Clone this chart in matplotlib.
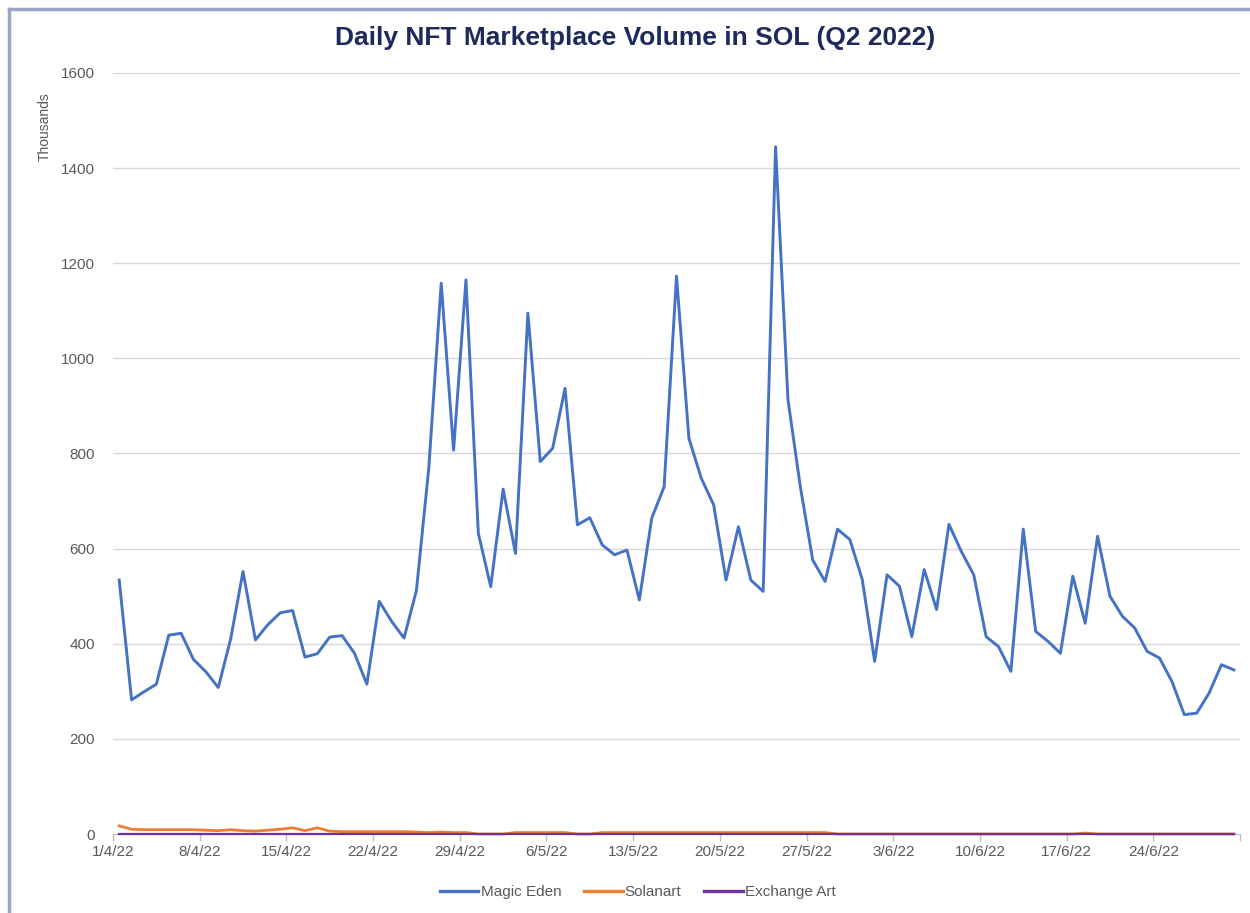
import matplotlib
matplotlib.use("Agg")
import matplotlib.pyplot as plt
from matplotlib.lines import Line2D
import numpy as np

# ---- data (thousands of SOL), daily 1/4/22 .. 30/6/22 ----
magic_eden = [
    534, 282, 299, 315, 418, 422, 367, 341, 308, 410,
    552, 408, 440, 465, 470, 372, 379, 414, 417, 380,
    315, 489, 447, 412, 512, 770, 1158, 807, 1165, 632,
    520, 725, 590, 1095, 783, 811, 937, 650, 665, 608,
    587, 597, 492, 664, 730, 1173, 832, 748, 692, 534,
    646, 534, 510, 1445, 913, 730, 576, 531, 641, 619,
    535, 363, 545, 521, 415, 556, 472, 651, 594, 545,
    415, 394, 342, 641, 426, 405, 380, 542, 443, 626,
    500, 458, 433, 384, 370, 321, 251, 254, 296, 356,
    345,
]
solanart = [
    17, 10, 9, 9, 9, 9, 9, 8, 7, 9,
    7, 6, 8, 10, 13, 7, 13, 6, 5, 5,
    5, 5, 5, 5, 4, 3, 4, 3, 3, 0,
    0, 0, 3, 3, 3, 3, 3, 0, 0, 3,
    3, 3, 3, 3, 3, 3, 3, 3, 3, 3,
    3, 3, 3, 3, 3, 3, 3, 3, 0, 0,
    0, 0, 0, 0, 0, 0, 0, 0, 0, 0,
    0, 0, 0, 0, 0, 0, 0, 0, 2, 0,
    0, 0, 0, 0, 0, 0, 0, 0, 0, 0,
    0,
]
exchange_art = [0.5] * 91
tick_labels = ["1/4/22", "8/4/22", "15/4/22", "22/4/22", "29/4/22", "6/5/22",
               "13/5/22", "20/5/22", "27/5/22", "3/6/22", "10/6/22", "17/6/22",
               "24/6/22", ""]
series_names = ["Magic Eden", "Solanart", "Exchange Art"]
colors = ["#4472C4", "#ED7D31", "#7030A0"]

plt.rcParams['font.family'] = ['Liberation Sans', 'DejaVu Sans']

fig = plt.figure(figsize=(12.5, 9.13), dpi=100)
fig.patch.set_facecolor("white")

# outer frame lines (top & left) like the screenshot
fig.add_artist(Line2D([9/1250, 1.0], [1 - 9/913, 1 - 9/913], transform=fig.transFigure,
                      color="#9aa6c4", lw=2.5))
fig.add_artist(Line2D([9/1250, 9/1250], [0.0, 1 - 9/913], transform=fig.transFigure,
                      color="#9aa6c4", lw=2.5))

ax = fig.add_axes([113/1250, 1 - 834/913, (1240 - 113)/1250, (834 - 73)/913])
x = np.arange(len(magic_eden))
ax.plot(x, magic_eden, color=colors[0], lw=2.1, zorder=3)
ax.plot(x, solanart, color=colors[1], lw=2.0, zorder=4, clip_on=False)
ax.plot(x, exchange_art, color=colors[2], lw=1.6, zorder=5, clip_on=False)

ax.set_xlim(-0.5, len(magic_eden) - 0.5)
ax.set_ylim(0, 1600)
ax.set_yticks(np.arange(0, 1601, 200))
ax.yaxis.grid(True, color="#d9d9d9", lw=1)
ax.set_axisbelow(True)
ax.tick_params(axis="y", length=0, pad=13, labelsize=11, labelcolor="#595959")
ax.set_xticks(np.arange(-0.5, len(magic_eden), 7))
ax.set_xticklabels(tick_labels)
ax.tick_params(axis="x", length=5, color="#bfbfbf", width=1, pad=3,
               labelsize=11, labelcolor="#595959")
for s in ["left", "right", "top"]:
    ax.spines[s].set_visible(False)
ax.spines["bottom"].set_color("#bfbfbf")
ax.spines["bottom"].set_zorder(1)

fig.text(45/1250, 1 - 127/913, "Thousands", rotation=90, ha="center", va="center",
         fontsize=10, color="#595959")

fig.text(635/1250, 1 - 38/913, "Daily NFT Marketplace Volume in SOL (Q2 2022)",
         ha="center", va="center", fontsize=19, fontweight="bold", color="#1f2a5c")

handles = [Line2D([0], [0], color=c, lw=2.4) for c in colors]
fig.legend(handles, series_names, loc="center", bbox_to_anchor=(638/1250, 1 - 892/913),
           ncol=3, frameon=False, fontsize=11, labelcolor="#595959",
           handlelength=2.5, handletextpad=0.15, columnspacing=1.5)

fig.savefig("out.png", dpi=100, facecolor="white")
